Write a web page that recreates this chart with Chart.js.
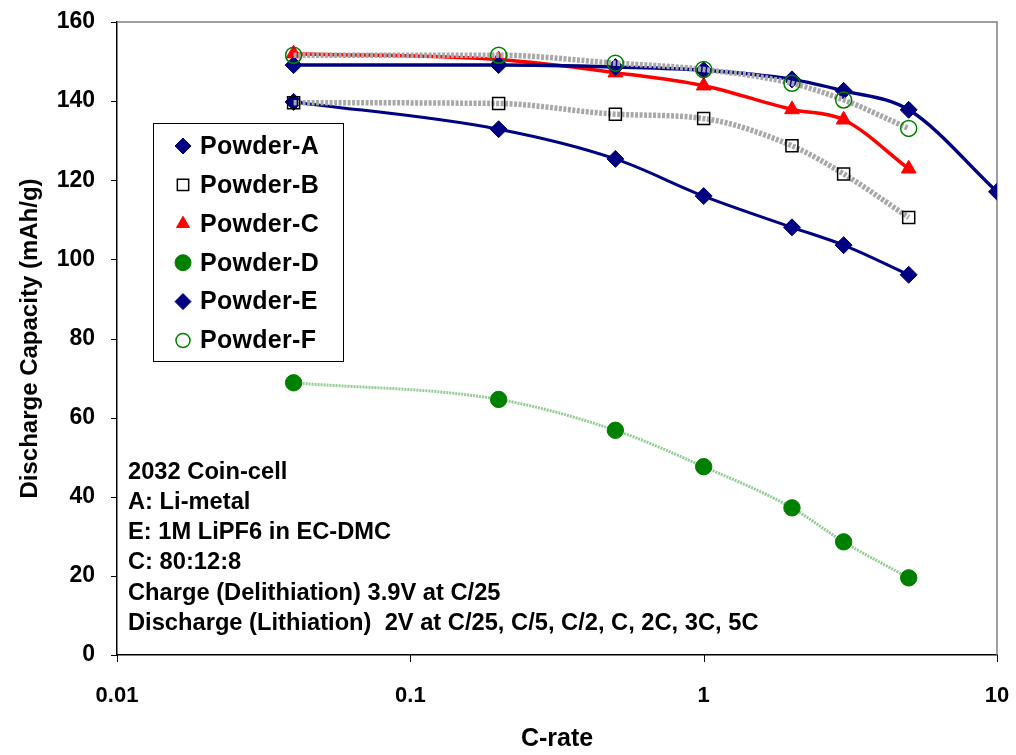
<!DOCTYPE html>
<html><head><meta charset="utf-8">
<script src="https://cdn.jsdelivr.net/npm/chart.js@4.4.1/dist/chart.umd.min.js"></script>
<style>html,body{margin:0;padding:0;background:#fff;}canvas{display:block;}</style>
</head><body>
<canvas id="c" width="1016" height="755"></canvas>
<script>
// ---- data ----
const cRates  = [0.04, 0.2, 0.5, 1, 2, 3, 5];
const cRatesE = [0.04, 0.2, 0.5, 1, 2, 3, 5, 10];
const powderA = [139.8, 132.9, 125.4, 116.0, 108.1, 103.6, 96.1];
const powderB = [139.6, 139.4, 136.7, 135.6, 128.7, 121.6, 110.6];
const powderC = [152.0, 150.5, 147.2, 143.9, 137.9, 135.3, 122.9];
const powderD = [68.8, 64.6, 56.8, 47.6, 37.2, 28.6, 19.5];
const powderE = [149.1, 149.1, 148.6, 147.8, 145.5, 142.6, 137.8, 117.1];
const powderF = [151.6, 151.6, 149.6, 148.0, 144.5, 140.3, 133.1];
const seriesNames = ['Powder-A', 'Powder-B', 'Powder-C', 'Powder-D', 'Powder-E', 'Powder-F'];
const xTickValues = [0.01, 0.1, 1, 10];
const xTickLabels = ['0.01', '0.1', '1', '10'];
const yMin = 0, yMax = 160, yStep = 20;
const xTitle = 'C-rate';
const yTitle = 'Discharge Capacity (mAh/g)';
const noteLines = [
  '2032 Coin-cell',
  'A: Li-metal',
  'E: 1M LiPF6 in EC-DMC',
  'C: 80:12:8',
  'Charge (Delithiation) 3.9V at C/25',
  'Discharge (Lithiation)  2V at C/25, C/5, C/2, C, 2C, 3C, 5C'
];

const FONT = '"Liberation Sans", Arial, sans-serif';
const pts = (xs, ys) => xs.map((x, i) => ({x: x, y: ys[i]}));

const datasets = [
  {label: seriesNames[0], data: pts(cRates, powderA), borderColor: '#000080', borderWidth: 3,
   pointStyle: 'rectRot', pointRadius: 8.5, pointBackgroundColor: '#000080', pointBorderColor: '#000080', pointBorderWidth: 1, legendRadius: 8, order: 6},
  {label: seriesNames[1], data: pts(cRates, powderB), borderColor: '#a8a8a8', borderWidth: 5.5, borderDash: [3, 1.5],
   pointStyle: 'rect', pointRadius: 8.5, pointBackgroundColor: 'rgba(0,0,0,0)', pointBorderColor: '#000', pointBorderWidth: 1.5, legendRadius: 8, order: 5},
  {label: seriesNames[2], data: pts(cRates, powderC), borderColor: '#ff0000', borderWidth: 3.5,
   pointStyle: 'triangle', pointRadius: 8.5, pointBackgroundColor: '#ff0000', pointBorderColor: '#ff0000', pointBorderWidth: 1, legendRadius: 7.5, order: 4},
  {label: seriesNames[3], data: pts(cRates, powderD), borderColor: '#96cc96', borderWidth: 3, borderDash: [2, 1],
   pointStyle: 'circle', pointRadius: 8.2, pointBackgroundColor: '#008000', pointBorderColor: '#008000', pointBorderWidth: 1, legendRadius: 8, order: 3},
  {label: seriesNames[4], data: pts(cRatesE, powderE), borderColor: '#000080', borderWidth: 3.5,
   pointStyle: 'rectRot', pointRadius: 8.5, pointBackgroundColor: '#000080', pointBorderColor: '#000080', pointBorderWidth: 1, legendRadius: 8, order: 2},
  {label: seriesNames[5], data: pts(cRates, powderF), borderColor: '#a8a8a8', borderWidth: 5.5, borderDash: [3, 1.5],
   pointStyle: 'circle', pointRadius: 8, pointBackgroundColor: 'rgba(0,0,0,0)', pointBorderColor: '#008000', pointBorderWidth: 1.5, legendRadius: 7, order: 1}
];
datasets.forEach(d => { d.showLine = true; d.cubicInterpolationMode = 'monotone'; d.fill = false; d.pointHoverRadius = d.pointRadius; });

// plot-area frame (gray top/right) and short outside tick marks
const frame = {
  id: 'frame',
  beforeDatasetsDraw(chart) {
    const {ctx, chartArea: a, scales} = chart;
    ctx.save();
    ctx.strokeStyle = '#808080'; ctx.lineWidth = 1.5;
    ctx.beginPath();
    ctx.moveTo(a.left, a.top);
    ctx.lineTo(a.right, a.top);
    ctx.lineTo(a.right, a.bottom);
    ctx.stroke();
    ctx.strokeStyle = '#000'; ctx.lineWidth = 1;
    ctx.beginPath();
    scales.x.ticks.forEach(t => {
      const px = Math.round(scales.x.getPixelForValue(t.value)) + 0.5;
      ctx.moveTo(px, a.bottom); ctx.lineTo(px, a.bottom + 7);
    });
    scales.y.ticks.forEach(t => {
      const py = Math.round(scales.y.getPixelForValue(t.value)) + 0.5;
      ctx.moveTo(a.left - 6, py); ctx.lineTo(a.left, py);
    });
    ctx.stroke();
    ctx.restore();
  }
};

const boxLegend = {
  id: 'boxLegend',
  afterDraw(chart) {
    const ctx = chart.ctx;
    ctx.save();
    ctx.fillStyle = '#fff';
    ctx.fillRect(153, 123, 190, 238);
    ctx.strokeStyle = '#000'; ctx.lineWidth = 1;
    ctx.strokeRect(153.5, 123.5, 190, 238);
    chart.data.datasets.forEach((ds, i) => {
      const y = 146 + i * 38.9;
      ctx.fillStyle = ds.pointBackgroundColor;
      ctx.strokeStyle = ds.pointBorderColor;
      ctx.lineWidth = ds.pointBorderWidth;
      ctx.setLineDash([]);
      Chart.helpers.drawPoint(ctx, {pointStyle: ds.pointStyle, radius: ds.legendRadius, rotation: 0, borderWidth: ds.pointBorderWidth}, 183, y);
      ctx.fillStyle = '#000';
      ctx.font = 'bold 25px ' + FONT;
      ctx.textBaseline = 'middle';
      ctx.textAlign = 'left';
      ctx.letterSpacing = '0.3px';
      ctx.fillText(ds.label, 200, y + 1);
    });
    ctx.restore();
  }
};

const notes = {
  id: 'notes',
  afterDraw(chart) {
    const ctx = chart.ctx;
    ctx.save();
    ctx.fillStyle = '#000';
    ctx.font = 'bold 23.7px ' + FONT;
    ctx.textBaseline = 'middle';
    ctx.textAlign = 'left';
    noteLines.forEach((t, i) => ctx.fillText(t, 128, 472 + i * 30.3));
    ctx.restore();
  }
};

new Chart(document.getElementById('c'), {
  type: 'scatter',
  data: {datasets: datasets},
  plugins: [frame, boxLegend, notes],
  options: {
    responsive: false,
    animation: false,
    devicePixelRatio: 1,
    layout: {padding: {left: 0, right: 19, top: 22, bottom: 0}},
    plugins: {legend: {display: false}, tooltip: {enabled: false}},
    scales: {
      x: {
        type: 'logarithmic', min: 0.01, max: 10,
        afterBuildTicks: s => { s.ticks = xTickValues.map(v => ({value: v})); },
        afterFit: s => { s.height = 100; },
        ticks: {callback: (v, i) => xTickLabels[i], color: '#000', padding: 0, maxRotation: 0,
                font: {family: FONT, size: 22, weight: 'bold'}},
        grid: {display: true, drawOnChartArea: false, drawTicks: true, tickLength: 28, tickColor: 'rgba(0,0,0,0)', color: 'rgba(0,0,0,0)'},
        border: {display: true, color: '#000', width: 1.5},
        title: {display: true, text: xTitle, color: '#000', padding: {top: 0, bottom: 1},
                font: {family: FONT, size: 25, weight: 'bold'}}
      },
      y: {
        min: yMin, max: yMax,
        afterFit: s => { s.width = 117; },
        ticks: {stepSize: yStep, color: '#000', padding: 0,
                font: {family: FONT, size: 23, weight: 'bold'}},
        grid: {display: true, drawOnChartArea: false, drawTicks: true, tickLength: 22, tickColor: 'rgba(0,0,0,0)', color: 'rgba(0,0,0,0)'},
        border: {display: true, color: '#000', width: 1.5},
        title: {display: true, text: yTitle, color: '#000', padding: {top: 16, bottom: 0},
                font: {family: FONT, size: 24, weight: 'bold'}}
      }
    }
  }
});
</script>
</body></html>
